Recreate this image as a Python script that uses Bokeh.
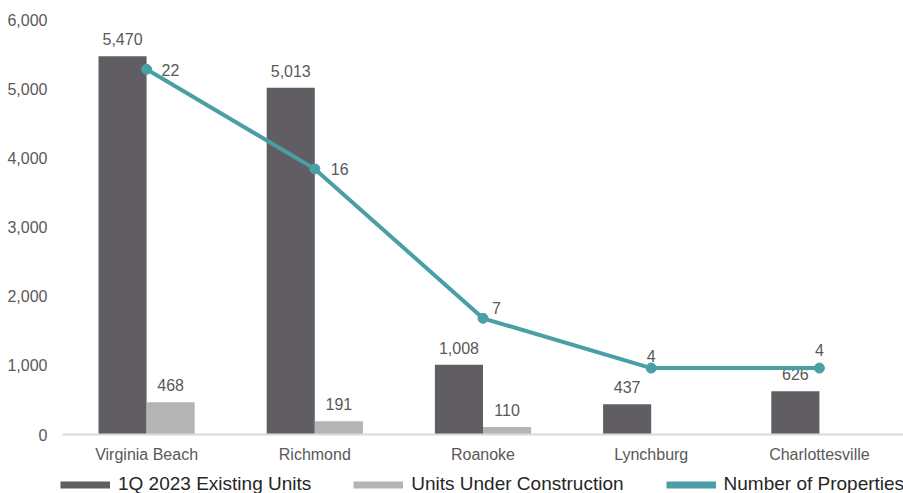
from bokeh.plotting import figure
from bokeh.layouts import column
from bokeh.models import (Range1d, FactorRange, ColumnDataSource, Legend, LegendItem,
                          NumeralTickFormatter, FixedTicker)
from bokeh.transform import dodge
from bokeh.core.properties import value
from bokeh.embed import file_html
from bokeh.resources import INLINE

# ---- data ----
cities = ["Virginia Beach", "Richmond", "Roanoke", "Lynchburg", "Charlottesville"]
existing_units = [5470, 5013, 1008, 437, 626]
under_construction = [468, 191, 110, 0, 0]
num_properties = [22, 16, 7, 4, 4]
y_ticks = [0, 1000, 2000, 3000, 4000, 5000, 6000]
series_names = ["1Q 2023 Existing Units", "Units Under Construction", "Number of Properties"]

# ---- styles ----
FONT = "Liberation Sans"
DARK = "#605e63"
LIGHT = "#b4b4b4"
TEAL = "#4a9fa5"
TXT = "#595959"
LEG_TXT = "#262626"

# label placement for the line values (screen px offsets)
line_lbl_dx = [15, 16, 9, 0, 0]
line_lbl_dy = [1, 0, -10, -6, -12]
line_lbl_align = ["left", "left", "left", "center", "center"]
line_lbl_base = ["middle", "middle", "middle", "bottom", "bottom"]

src = ColumnDataSource(dict(city=cities, existing=existing_units,
                            construction=under_construction, props=num_properties,
                            ex_lbl=[f"{v:,}" for v in existing_units],
                            dx=line_lbl_dx, dy=line_lbl_dy, al=line_lbl_align, bl=line_lbl_base,
                            pr_lbl=[str(v) for v in num_properties]))
uc_idx = [i for i, v in enumerate(under_construction) if v > 0]
uc_src = ColumnDataSource(dict(city=[cities[i] for i in uc_idx],
                               val=[under_construction[i] for i in uc_idx],
                               lbl=[f"{under_construction[i]:,}" for i in uc_idx]))

p = figure(x_range=FactorRange(factors=cities), y_range=Range1d(0, 6000),
           width=903, height=465, output_backend="svg", toolbar_location=None,
           min_border_left=62, min_border_right=0, min_border_top=19, min_border_bottom=30)
p.frame_align = False
p.extra_y_ranges = {"props": Range1d(0, 25)}
p.outline_line_color = None
p.xgrid.visible = False
p.ygrid.visible = False
p.background_fill_color = "white"

BW = 0.286
p.vbar(x=dodge("city", -BW / 2, range=p.x_range), top="existing", width=BW,
       source=src, color=DARK, line_color=None)
p.vbar(x=dodge("city", BW / 2, range=p.x_range), top="construction", width=BW,
       source=src, color=LIGHT, line_color=None)

p.text(x=dodge("city", -BW / 2, range=p.x_range), y="existing", text="ex_lbl", source=src,
       text_align="center", text_baseline="bottom", y_offset=-11,
       text_font=value(FONT), text_font_size="16px", text_color=TXT)
p.text(x=dodge("city", BW / 2, range=p.x_range), y="val", text="lbl", source=uc_src,
       text_align="center", text_baseline="bottom", y_offset=-11,
       text_font=value(FONT), text_font_size="16px", text_color=TXT)

p.line(x="city", y="props", source=src, y_range_name="props", line_width=4, color=TEAL)
p.scatter(x="city", y="props", source=src, y_range_name="props", size=10,
          color=TEAL, line_color=TEAL)
p.text(x="city", y="props", text="pr_lbl", source=src, y_range_name="props",
       x_offset="dx", y_offset="dy", text_align="al", text_baseline="bl",
       text_font=value(FONT), text_font_size="16px", text_color=TXT)

# axes
p.yaxis.ticker = FixedTicker(ticks=y_ticks)
p.yaxis.formatter = NumeralTickFormatter(format="0,0")
p.yaxis.axis_line_color = None
p.yaxis.major_tick_line_color = None
p.yaxis.minor_tick_line_color = None
p.yaxis.major_tick_out = 0
p.yaxis.major_label_standoff = 15
p.yaxis.major_label_text_font = FONT
p.yaxis.major_label_text_font_size = "16px"
p.yaxis.major_label_text_color = TXT

p.xaxis.axis_line_color = "#d9d9d9"
p.xaxis.axis_line_width = 2
p.xaxis.major_tick_line_color = None
p.xaxis.minor_tick_line_color = None
p.xaxis.major_tick_out = 0
p.xaxis.major_label_standoff = 11
p.xaxis.major_label_text_font = FONT
p.xaxis.major_label_text_font_size = "16px"
p.xaxis.major_label_text_color = TXT

# legend strip (separate figure below the chart)
lf = figure(width=903, height=28, output_backend="svg", toolbar_location=None,
            x_range=Range1d(0, 1), y_range=Range1d(0, 1),
            min_border_left=0, min_border_right=0, min_border_top=0, min_border_bottom=0)
lf.frame_align = False
lf.axis.visible = False
lf.grid.visible = False
lf.outline_line_color = None
# single-point proxies: they draw nothing in the strip, only give the legend its swatches
lg1 = lf.line(x=[0], y=[0], line_width=7, color=DARK)
lg2 = lf.line(x=[0], y=[0], line_width=7, color=LIGHT)
lg3 = lf.line(x=[0], y=[0], line_width=7, color=TEAL)
legend = Legend(items=[LegendItem(label=series_names[0], renderers=[lg1]),
                       LegendItem(label=series_names[1], renderers=[lg2]),
                       LegendItem(label=series_names[2], renderers=[lg3])],
                orientation="horizontal", location=(60, -2),
                glyph_width=50, glyph_height=19, label_height=19, label_standoff=8,
                spacing=42, padding=0, margin=0,
                border_line_color=None, background_fill_alpha=0,
                label_text_font=FONT, label_text_font_size="19px", label_text_color=LEG_TXT)
lf.add_layout(legend, "center")

layout = column(p, lf, spacing=0)
open("out.html", "w").write(file_html(layout, INLINE))
